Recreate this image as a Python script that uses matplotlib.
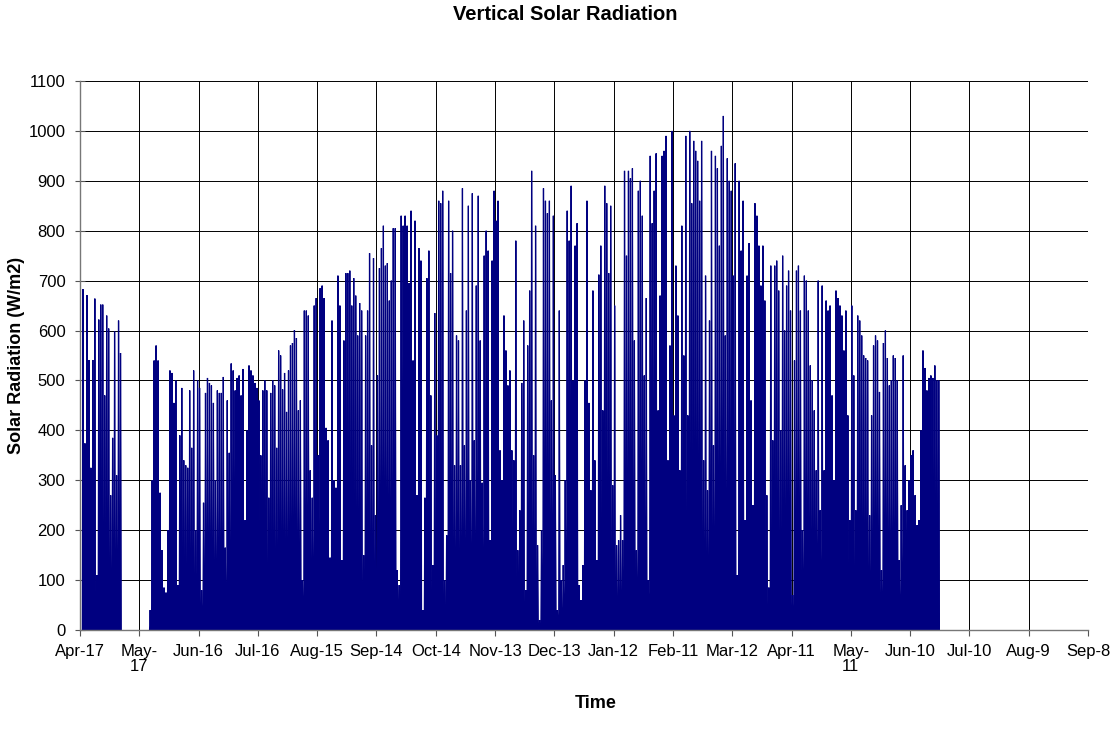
import numpy as np
import matplotlib
matplotlib.use("Agg")
import matplotlib.pyplot as plt

plt.rcParams['font.family'] = ['Liberation Sans', 'DejaVu Sans']

# days are counted from Apr-17 (day 0); ticks every 30 days
tick_labels = ["Apr-17", "May-\n17", "Jun-16", "Jul-16", "Aug-15", "Sep-14",
               "Oct-14", "Nov-13", "Dec-13", "Jan-12", "Feb-11", "Mar-12",
               "Apr-11", "May-\n11", "Jun-10", "Jul-10", "Aug-9", "Sep-8"]

# daily peak radiation (W/m2), first block of records
seg1_start = 1
seg1_peaks = [683, 374, 671, 541, 325, 541, 664, 110, 622, 652, 652, 470, 630,
              604, 270, 385, 598, 310, 620, 555]

# daily peak radiation (W/m2), second block after the missing days
seg2_start = 35
seg2_peaks = [
    40, 300, 540, 570, 540, 275, 160, 85, 75, 200, 520, 515, 455, 500, 90, 390,
    485, 340, 330,
    325, 480, 365, 520, 200, 500, 485, 80, 255, 475, 505, 495, 490, 455, 300,
    480, 475, 475, 507, 165, 460, 355, 534, 520, 480, 505, 510, 470, 523, 220,
    400, 530, 520, 510, 495, 485, 460, 350, 480, 500, 480, 265, 475, 500, 490,
    365, 560, 550, 482, 515, 437, 520, 570, 575, 601,
    585, 440, 460, 100, 640, 640, 630, 320, 265, 650, 665, 350, 685, 690, 665,
    405, 380, 145, 620, 300, 285, 710, 650, 140, 580, 715, 715, 720, 650, 705,
    670, 590, 655, 640, 150, 590, 640, 755, 370, 745, 230, 510, 725, 765, 810,
    730, 735, 660, 700, 805, 805, 120, 90, 830,
    810, 830, 810, 695, 840, 540, 820, 270, 765, 740, 40, 265, 705, 760, 470,
    130, 635, 390, 860, 855, 880, 100, 190, 860, 715, 800, 330, 590, 580, 330,
    885, 370, 640, 850, 300, 875, 380, 690, 870, 580, 295, 750, 800, 760, 180,
    740, 880, 820, 860, 360, 300, 630, 560,
    490, 520, 360, 340, 780, 160, 240, 495, 620, 80, 570, 680, 920, 350, 810,
    170, 20, 200, 885, 860, 835, 860, 460, 830, 310, 40, 640, 100, 130, 300,
    840, 780, 890, 500, 770, 815, 90, 60, 130, 500, 860, 455, 280, 680, 340,
    140, 712, 770, 440, 890, 855, 715, 850, 290,
    650, 170, 180, 230, 180, 920, 750, 920, 905, 925, 580, 160, 880, 900, 830,
    510, 665, 100, 950, 815, 880, 955, 440, 670, 950, 960, 990, 340, 570, 1000,
    430, 730, 630, 320, 810, 550, 990, 430, 1000, 855, 980, 960, 940, 860, 980,
    340, 710, 280, 620, 960, 370, 950, 925,
    770, 970, 1030, 590, 945, 900, 880, 710, 935, 110, 900, 760, 860, 220, 710,
    775, 460, 250, 855, 830, 770, 690, 770, 660, 270, 85, 730, 380, 730, 740,
    680, 400, 750, 600, 690, 720, 640, 70, 540, 720, 730, 640, 200, 710, 700,
    640, 530, 500, 440, 320, 700, 240, 690, 320,
    660, 640, 650, 470, 300, 680, 665, 650, 630, 560, 640, 430, 220, 650, 510,
    240, 630, 620, 590, 550, 545, 540, 230, 430, 570, 590, 580, 477, 120, 575,
    600, 545, 490, 500, 550, 545, 500, 140, 250, 550, 330, 240, 300, 350, 360,
    270, 210, 220, 400, 560, 525, 480, 505, 510, 505, 530, 500, 500,
]

navy = "#000080"


def day_curve(start, peaks):
    # each day rises from zero to its peak and drops back to zero
    xs, ys = [], []
    for i, p in enumerate(peaks):
        d = start + i
        xs += [d + 0.2, d + 0.5, d + 0.8]
        ys += [0, p, 0]
    return np.array(xs), np.array(ys)


fig = plt.figure(figsize=(11.15, 7.42), dpi=100)
ax = fig.add_axes([80 / 1115, 1 - 630 / 742, 1008 / 1115, 549 / 742])

for start, peaks in [(seg1_start, seg1_peaks), (seg2_start, seg2_peaks)]:
    x, y = day_curve(start, peaks)
    ax.fill_between(x, 0, y, color=navy, linewidth=0)
    ax.plot(x, y, color=navy, linewidth=0.9, solid_joinstyle='miter')

ax.set_xlim(0, 30 * (len(tick_labels) - 1))
ax.set_ylim(0, 1100)
ax.set_xticks(np.arange(len(tick_labels)) * 30)
ax.set_xticklabels(tick_labels, fontsize=12, linespacing=1.05)
ax.set_yticks(np.arange(0, 1101, 100))
ax.tick_params(axis='y', labelsize=12, direction='inout', length=7, width=0.8,
               color='#555555', pad=7)
ax.tick_params(axis='x', direction='out', length=4, width=0.8,
               color='#555555', pad=6)

ax.grid(True, color='black', linewidth=0.7)
ax.set_axisbelow(True)
for side in ['left', 'bottom']:
    ax.spines[side].set_color('#777777')
    ax.spines[side].set_linewidth(1.0)
for side in ['top', 'right']:
    ax.spines[side].set_visible(False)

fig.text(565 / 1115, 1 - 15 / 742, "Vertical Solar Radiation", ha='center',
         va='center', fontsize=14.5, fontweight='bold')
fig.text(596 / 1115, 1 - 704 / 742, "Time", ha='center', va='center',
         fontsize=13, fontweight='bold')
fig.text(17 / 1115, 1 - 355 / 742, "Solar Radiation (W/m2)", ha='center',
         va='center', rotation=90, fontsize=13, fontweight='bold')

fig.savefig("out.png", dpi=100)
